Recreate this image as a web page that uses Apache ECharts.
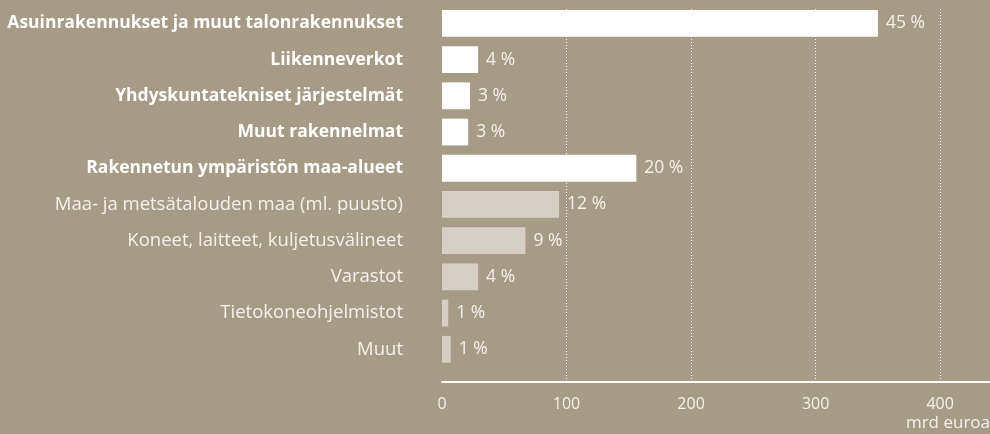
<!DOCTYPE html>
<html>
<head>
<meta charset="utf-8">
<script src="https://cdn.jsdelivr.net/npm/echarts@6/dist/echarts.min.js"></script>
<style>
  html, body { margin: 0; padding: 0; background: #a69b87; }
  #main { width: 990px; height: 434px; }
</style>
</head>
<body>
<div id="main"></div>
<script>
// kategoriat ylhäältä alas
var categories = [
    'Asuinrakennukset ja muut talonrakennukset',
    'Liikenneverkot',
    'Yhdyskuntatekniset järjestelmät',
    'Muut rakennelmat',
    'Rakennetun ympäristön maa-alueet',
    'Maa- ja metsätalouden maa (ml. puusto)',
    'Koneet, laitteet, kuljetusvälineet',
    'Varastot',
    'Tietokoneohjelmistot',
    'Muut'
];
// arvot, mrd euroa
var values = [350, 29, 22.5, 21, 156, 94, 67, 29, 5, 7];
// osuus prosentteina
var shares = [45, 4, 3, 3, 20, 12, 9, 4, 1, 1];
// rakennettu ympäristö = ensimmäiset viisi
var builtCount = 5;
var xTicks = [0, 100, 200, 300, 400];

var bg = '#a69b87';
var txt = '#f4f1ec';
var font = '"Open Sans", "DejaVu Sans", sans-serif';

var myChart = echarts.init(document.getElementById('main'));

var option = {
    backgroundColor: bg,
    animation: false,
    title: {
        text: 'mrd euroa',
        right: 0,
        top: 415,
        padding: 0,
        textStyle: { color: txt, fontSize: 17, fontWeight: 'normal', fontFamily: font }
    },
    grid: [
        { left: 442, right: 0, top: 5.3, bottom: 66.6 },
        { left: 442, right: 0, top: 9, bottom: 52 }
    ],
    xAxis: [
        {
            gridIndex: 0,
            type: 'value',
            min: 0,
            max: 440,
            show: false
        },
        {
            gridIndex: 1,
            type: 'value',
            min: 0,
            max: 440,
            interval: 100,
            axisLine: { show: true, lineStyle: { color: '#ffffff', width: 2 } },
            axisTick: { show: false },
            axisLabel: {
                color: txt, fontSize: 16, fontFamily: font, margin: 14,
                showMaxLabel: false,
                formatter: function (v) { return xTicks.indexOf(v) >= 0 ? v : ''; }
            },
            splitLine: {
                show: true,
                showMinLine: false,
                showMaxLine: false,
                lineStyle: { color: '#ffffff', width: 1, type: [1, 2] }
            }
        }
    ],
    yAxis: [
        {
            gridIndex: 0,
            type: 'category',
            inverse: true,
            data: categories,
            axisLine: { show: false },
            axisTick: { show: false },
            axisLabel: {
                margin: 39,
                fontFamily: font,
                formatter: function (v, i) {
                    return i < builtCount ? '{b|' + v + '}' : '{n|' + v + '}';
                },
                rich: {
                    b: { fontWeight: 'bold', fontSize: 17.5, color: '#ffffff', fontFamily: font },
                    n: { fontWeight: 'normal', fontSize: 18.5, color: txt, fontFamily: font }
                }
            }
        },
        {
            gridIndex: 1,
            type: 'value',
            show: false
        }
    ],
    series: [
        {
            type: 'bar',
            xAxisIndex: 0,
            yAxisIndex: 0,
            barCategoryGap: '26%',
            data: values.map(function (v, i) {
                return {
                    value: v,
                    itemStyle: { color: i < builtCount ? '#ffffff' : '#d6cfc6' }
                };
            }),
            label: {
                show: true,
                position: 'right',
                distance: 8,
                color: txt,
                fontSize: 17.5,
                fontFamily: font,
                formatter: function (p) { return shares[p.dataIndex] + ' %'; }
            }
        }
    ]
};

myChart.setOption(option);
</script>
</body>
</html>
